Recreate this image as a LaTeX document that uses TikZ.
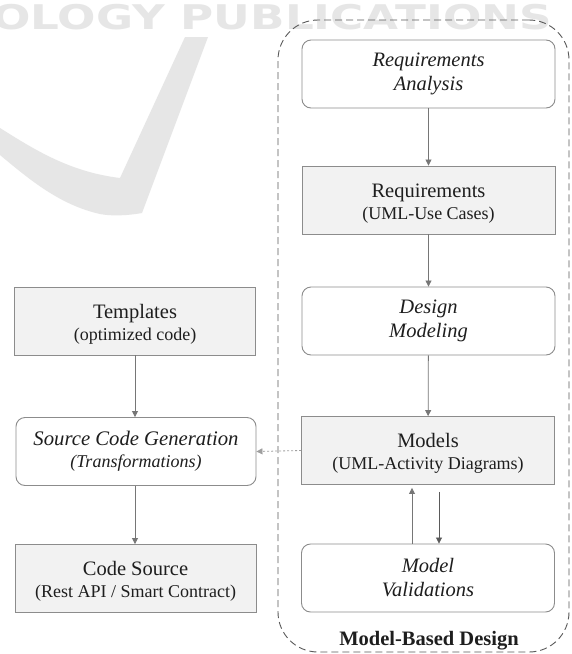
\documentclass[tikz,border=0pt]{standalone}
\usepackage{fontspec}
\setmainfont{Liberation Serif}
\newfontfamily\wmfont{DejaVu Sans}
\usetikzlibrary{arrows.meta}
\definecolor{boxline}{HTML}{8C8C8C}
\definecolor{boxfill}{HTML}{F2F2F2}
\definecolor{arrline}{HTML}{767676}
\definecolor{txt}{HTML}{1E1E1E}
\definecolor{wm}{HTML}{E6E6E6}
\definecolor{frame}{HTML}{5A5A5A}
\tikzset{
  base/.style={draw=boxline, line width=0.9pt, minimum width=253pt, minimum height=68pt,
    align=center, text=txt, inner sep=0pt, font=\fontsize{20.5}{22}\selectfont},
  grayboxstyle/.style={base, fill=boxfill},
  roundboxstyle/.style={base, fill=white, rounded corners=9pt, font=\fontsize{20.5}{24}\selectfont\itshape},
  arr/.style={draw=arrline, line width=0.8pt, -{Triangle[length=6pt,width=6pt]}},
  dotarr/.style={draw=arrline!70, line width=0.8pt, dash pattern=on 2pt off 2pt, -{Triangle[length=6pt,width=6pt]}},
  framestyle/.style={draw=frame, line width=0.9pt, dash pattern=on 7pt off 4pt, rounded corners=40pt,
    minimum width=291pt, minimum height=632pt, inner sep=0pt}
}
\newcommand{\subtxt}[1]{{\fontsize{18}{22}\selectfont #1}}
\newcommand{\tallstrut}{\rule{0pt}{20pt}}
\begin{document}
\begin{tikzpicture}[x=1pt,y=-1pt]
\useasboundingbox (0,0) rectangle (571,654);
\fill[white] (0,0) rectangle (571,654);
% watermark
\node[wm, inner sep=0pt, xscale=1.33, font=\wmfont\bfseries\fontsize{34}{34}\selectfont] (wmtext) at (272,17.5) {OLOGY PUBLICATIONS};
\fill[wm] (185,37) -- (208,37) -- (142,213)
  .. controls (125,216) and (110,216) .. (100,214)
  .. controls (60,205) and (30,180) .. (0,155) -- (0,128)
  .. controls (35,150) and (70,172) .. (120,178) -- cycle;
% frame
\node[framestyle] (mbd) at (423.5,336) {};
\node[anchor=base, text=txt, font=\fontsize{20.5}{23}\selectfont\bfseries] (mbdlabel) at (429,645) {Model-Based Design};
% right column
\node[roundboxstyle] (ra) at (428.5,74) {Requirements\\Analysis};
\node[grayboxstyle] (req) at (428.5,200) {\tallstrut Requirements\\\subtxt{(UML-Use Cases)}};
\node[roundboxstyle] (dm) at (428.5,321) {Design\\Modeling};
\node[grayboxstyle] (models) at (428,450.5) {\tallstrut Models\\\subtxt{(UML-Activity Diagrams)}};
\node[roundboxstyle] (mv) at (428,578) {Model\\Validations};
% left column
\node[grayboxstyle, minimum width=241pt] (tpl) at (135,321) {\tallstrut Templates\\\subtxt{(optimized code)}};
\node[roundboxstyle, minimum width=240pt, font=\fontsize{20.7}{22}\selectfont\itshape] (scg) at (136,451.5) {Source Code Generation\\\subtxt{(Transformations)}};
\node[grayboxstyle, minimum width=241pt] (cs) at (135.5,578.5) {\tallstrut Code Source\\\subtxt{(Rest API / Smart Contract)}};
% connectors
\coordinate (upx) at (412,0);
\coordinate (dnx) at (439,0);
\coordinate (lx) at (135,0);
\draw[arr] (ra) -- (req);
\draw[arr] (req) -- (dm);
\draw[arr] (dm) -- (models);
\draw[arr, shorten >=3pt] (mv.north -| upx) -- (models.south -| upx);
\draw[arr, draw=frame, shorten <=7pt] (models.south -| dnx) -- (mv.north -| dnx);
\draw[dotarr] (models.west) -- (scg.east);
\draw[arr] (tpl.south -| lx) -- (scg.north -| lx);
\draw[arr] (scg.south -| lx) -- (cs.north -| lx);
\end{tikzpicture}
\end{document}
